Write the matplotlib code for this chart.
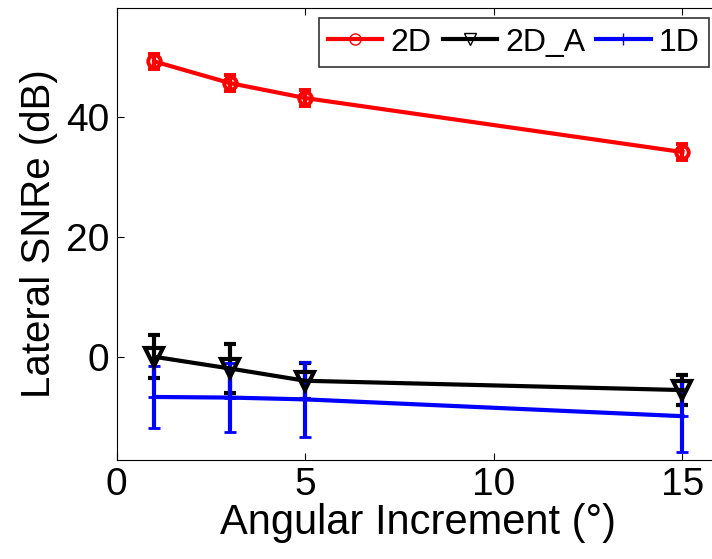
import matplotlib
matplotlib.use('Agg')
import matplotlib.pyplot as plt
from matplotlib.lines import Line2D

plt.rcParams['font.family'] = ['Liberation Sans', 'DejaVu Sans']

angles = [1, 3, 5, 15]

snr_2d = [49.2, 45.6, 43.1, 34.1]
err_2d = [1.3, 1.3, 1.3, 1.3]

snr_2da = [0.0, -1.95, -4.0, -5.55]
err_2da = [3.6, 4.1, 3.0, 2.5]

snr_1d = [-6.7, -6.8, -7.1, -9.9]
err_1d = [5.1, 5.8, 6.2, 6.0]

W, H = 712, 559
fig = plt.figure(figsize=(W / 100, H / 100), dpi=100)
# axes run a bit past the right edge (picture is cropped there)
ax = fig.add_axes([116.5 / W, (H - 460) / H, 603.7 / W, 452 / H])

common = dict(lw=3, capsize=4.5, capthick=3, elinewidth=3)
ax.errorbar(angles, snr_2d, yerr=err_2d, color='red', marker='o', ms=9, mfc='none',
            mew=2.8, **common)
ax.errorbar(angles, snr_2da, yerr=err_2da, color='black', marker='v', ms=13, mfc='none',
            mew=3, **common)
ax.errorbar(angles, snr_1d, yerr=err_1d, color='blue', marker='+', ms=9,
            mew=2, **common)

ax.set_xlim(0, 16)
ax.set_ylim(-17.2, 58.1)
ax.set_xticks([0, 5, 10, 15])
ax.set_yticks([0, 20, 40])
ax.tick_params(direction='in', labelsize=28, top=True, right=True, length=5, pad=5)
ax.set_xlabel('Angular Increment (\u00b0)', fontsize=30, labelpad=0)
ax.set_ylabel('Lateral SNRe (dB)', fontsize=29, labelpad=6)

handles = [
    Line2D([], [], color='red', lw=3, marker='o', ms=8, mfc='none', mew=1),
    Line2D([], [], color='black', lw=3, marker='v', ms=8, mfc='none', mew=1),
    Line2D([], [], color='blue', lw=3, marker='+', ms=8, mew=1),
]
leg = ax.legend(handles, ['2D', '2D_A', '1D'], loc='upper right', ncol=3, fontsize=23,
                frameon=True, fancybox=False, edgecolor='black', handlelength=1.7,
                columnspacing=0.35, handletextpad=0.25, borderpad=0.3,
                bbox_to_anchor=(709 / W, 1 - 18 / H), bbox_transform=fig.transFigure,
                borderaxespad=0)
leg.get_frame().set_linewidth(1.2)

fig.savefig('out.png', dpi=100)
